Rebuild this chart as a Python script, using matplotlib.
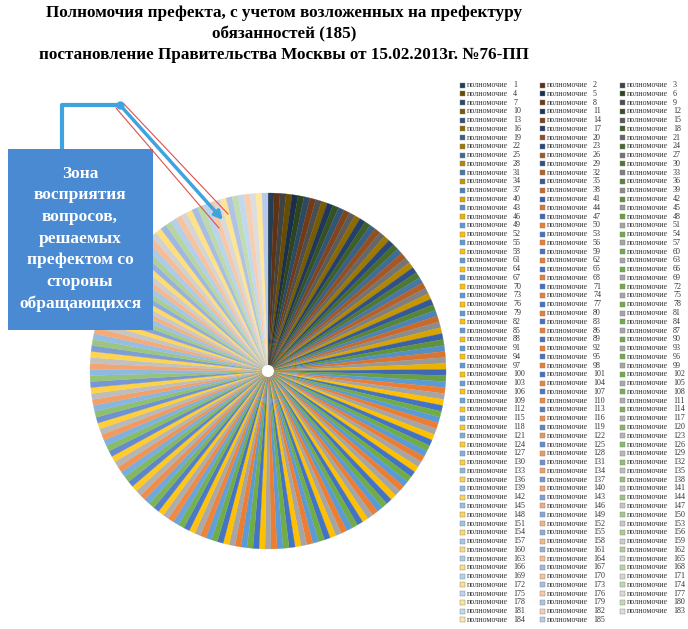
import numpy as np
import matplotlib
matplotlib.use("Agg")
import matplotlib.pyplot as plt
from matplotlib.patches import Rectangle
from matplotlib import colors as mcolors

plt.rcParams['font.family'] = ['Liberation Serif', 'DejaVu Serif']

# data: 185 equal duties
n_items = 185
shares = [1] * n_items
item_numbers = list(range(1, n_items + 1))
item_word = "полномочие"

title_lines = ["Полномочия префекта, с учетом возложенных на префектуру",
               "обязанностей (185)",
               "постановление Правительства Москвы от 15.02.2013г. №76-ПП"]
callout = "Зона\nвосприятия\nвопросов,\nрешаемых\nпрефектом со\nстороны\nобращающихся"

# office 2013 accent colours
base = ['#5B9BD5', '#ED7D31', '#A5A5A5', '#FFC000', '#4472C4', '#70AD47']


def shade(c, t):
    rgb = np.array(mcolors.to_rgb(c))
    if t < 0:
        return tuple(rgb * (1 + t))
    return tuple(rgb + (1 - rgb) * t)


def cycle_shade(k):
    # dark at the start, plain in the middle, pale at the end
    if k < 8:
        return -0.6 * (1 - k / 8)
    if k < 16:
        return 0.0
    return 0.62 * (k - 16) / 14


slice_colors = [shade(base[i % len(base)], cycle_shade(i // len(base))) for i in range(n_items)]

W, H = 688, 629
fig = plt.figure(figsize=(W / 100, H / 100), dpi=100)

# pie
cx, cy, r = 268, 371, 178
ax = fig.add_axes([(cx - r) / W, (H - cy - r) / H, 2 * r / W, 2 * r / H])
wedges, _ = ax.pie(shares, colors=slice_colors, startangle=90, counterclock=False)
for w in wedges:
    w.set_edgecolor(w.get_facecolor())
    w.set_linewidth(0.2)
ax.add_patch(plt.Circle((0, 0), 0.03, color='white', zorder=5))
ax.set_xlim(-1, 1)
ax.set_ylim(-1, 1)
ax.set_aspect('equal')
ax.axis('off')

# overlay in pixel coords for title, legend and callout
ov = fig.add_axes([0, 0, 1, 1], facecolor='none')
ov.set_xlim(0, W)
ov.set_ylim(H, 0)
ov.axis('off')

for y, line in zip([13, 34, 55], title_lines):
    ov.text(284, y, line, ha='center', va='center', fontsize=12.3, fontweight='bold')

# legend, row by row like in Excel
col_x = [462, 542, 622]
row0, row_h = 85, 8.77
for i, num in enumerate(item_numbers):
    x = col_x[i % 3]
    y = row0 + (i // 3) * row_h
    ov.add_patch(Rectangle((x - 2.5, y - 2.5), 5, 5, facecolor=slice_colors[i],
                           edgecolor='#7f7f7f', linewidth=0.3))
    ov.text(x + 5, y, item_word, ha='left', va='center', fontsize=5.8, color='#333333')
    ov.text(x + 51, y, str(num), ha='left', va='center', fontsize=5.8, color='#333333')

# callout box
ov.add_patch(Rectangle((8, 149), 145, 181, facecolor='#4a8ad3', edgecolor='none'))
ov.text(80, 239, callout, ha='center', va='center', color='white', fontsize=12.5,
        fontweight='bold', linespacing=1.47)

ov.plot([62, 62, 120], [149, 105, 105], color='#3fa3df', lw=3, solid_capstyle='butt')
ov.plot([116, 219], [108, 228], color='#e0504d', lw=0.8)
ov.plot([124, 228], [104, 214], color='#e0504d', lw=0.8)
ov.annotate('', xy=(223, 220), xytext=(120, 105),
            arrowprops=dict(arrowstyle='-|>', color='#3fa3df', lw=2.5,
                            mutation_scale=12, shrinkA=0, shrinkB=0))
ov.plot([120], [105], 'o', color='#3fa3df', ms=5)

fig.savefig('out.png', dpi=100)
